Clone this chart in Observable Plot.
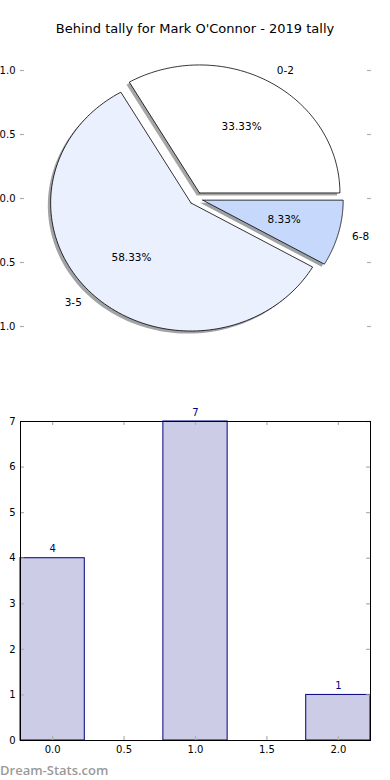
<!DOCTYPE html>
<html>
<head>
<meta charset="utf-8">
<script src="https://cdn.jsdelivr.net/npm/d3@7"></script>
<script src="https://cdn.jsdelivr.net/npm/@observablehq/plot@0.6"></script>
<style>
  html, body { margin: 0; padding: 0; background: #fff; }
  #wrap { position: relative; width: 390px; height: 780px; overflow: hidden; font-family: "DejaVu Sans", sans-serif; }
  #title { position: absolute; top: 21px; left: 0; width: 390px; text-align: center; font-size: 13px; color: #000; }
  #pie { position: absolute; top: 0; left: 0; }
  #bar { position: absolute; top: 390px; left: 0; }
  #mark { position: absolute; left: 0; top: 763px; font-family: "Open Sans", "DejaVu Sans", sans-serif; font-size: 13px; line-height: 14px; font-weight: 600; color: #9a9a9a; }
</style>
</head>
<body>
<div id="wrap">
  <div id="pie"></div>
  <div id="title"></div>
  <div id="bar"></div>
  <div id="mark"></div>
</div>
<script>
const title = "Behind tally for Mark O'Connor - 2019 tally";
const watermark = "Dream-Stats.com";
const categories = ["0-2", "3-5", "6-8"];
const tallies = [4, 7, 1];
const pieColors = ["#ffffff", "#eaf0fd", "#c6d9fd"];
const explode = [0.05, 0.05, 0.05];
const pieTicks = [-1, -0.5, 0, 0.5, 1];
const barIndex = [0, 1, 2];
const barXTicks = [0, 0.5, 1, 1.5, 2];
const barYTicks = [0, 1, 2, 3, 4, 5, 6, 7];

document.getElementById("title").textContent = title;
document.getElementById("mark").textContent = watermark;

const font = {fontFamily: "DejaVu Sans", fontSize: "10px", background: "transparent", overflow: "visible"};

// ---------- Pie ----------
const total = d3.sum(tallies);
const wedges = [];
const labels = [];
let a0 = 0;
tallies.forEach((v, i) => {
  const a1 = a0 + 360 * v / total;
  const mid = (a0 + a1) / 2 * Math.PI / 180;
  const cx = explode[i] * Math.cos(mid), cy = explode[i] * Math.sin(mid);
  const pts = [{x: cx, y: cy}];
  const n = 120;
  for (let k = 0; k <= n; k++) {
    const a = (a0 + (a1 - a0) * k / n) * Math.PI / 180;
    pts.push({x: cx + Math.cos(a), y: cy + Math.sin(a)});
  }
  pts.push({x: cx, y: cy});
  wedges.push({pts, color: pieColors[i]});
  labels.push({
    lx: cx + 1.1 * Math.cos(mid), ly: cy + 1.1 * Math.sin(mid), name: categories[i],
    px: cx + 0.6 * Math.cos(mid), py: cy + 0.6 * Math.sin(mid), pct: d3.format(".2f")(v / total * 100) + "%"
  });
  a0 = a1;
});

const pieW = 390, pieH = 380, pmT = 38, pmB = 22, pmL = 20, pmR = 19;
const pieMarks = [];
wedges.forEach(w => {
  const c = d3.rgb(w.color);
  const sc = d3.rgb(c.r * 0.3, c.g * 0.3, c.b * 0.3).formatHex();
  pieMarks.push(Plot.line(w.pts, {x: d => d.x - 0.02, y: d => d.y - 0.02, fill: sc, fillOpacity: 0.5, stroke: "none", curve: "linear"}));
});
wedges.forEach(w => {
  pieMarks.push(Plot.line(w.pts, {x: "x", y: "y", fill: w.color, stroke: "#000", strokeWidth: 0.8, curve: "linear"}));
});
pieMarks.push(Plot.text(labels.filter(d => d.lx >= 0), {x: "lx", y: "ly", text: "name", textAnchor: "start", lineAnchor: "middle", fontSize: 10.5, fill: "#000"}));
pieMarks.push(Plot.text(labels.filter(d => d.lx < 0), {x: "lx", y: "ly", text: "name", textAnchor: "end", lineAnchor: "middle", fontSize: 10.5, fill: "#000"}));
pieMarks.push(Plot.text(labels, {x: "px", y: "py", text: "pct", textAnchor: "middle", lineAnchor: "middle", fontSize: 10.5, fill: "#000"}));
const pFrameW = pieW - pmL - pmR;
pieMarks.push(Plot.tickY(pieTicks, {y: d => d, stroke: "#b0b0b0", strokeWidth: 1.2, insetRight: pFrameW - 4}));
pieMarks.push(Plot.tickY(pieTicks, {y: d => d, stroke: "#b0b0b0", strokeWidth: 1.2, insetLeft: pFrameW - 4}));
pieMarks.push(Plot.axisY(pieTicks, {tickSize: 0, tickPadding: 5, tickFormat: d3.format(".1f"), label: null, fontSize: 10, fill: "#000"}));

const pie = Plot.plot({
  width: pieW, height: pieH,
  marginTop: pmT, marginBottom: pmB, marginLeft: pmL, marginRight: pmR,
  style: font,
  x: {domain: [-1.25, 1.25], axis: null},
  y: {domain: [-1.25, 1.25], label: null},
  marks: pieMarks
});
document.getElementById("pie").appendChild(pie);

// ---------- Bar ----------
const barW = 390, barH = 380, bmT = 31, bmB = 30, bmL = 20, bmR = 20;
const bFrameH = barH - bmT - bmB;
const bFrameW = barW - bmL - bmR;
const barData = barIndex.map(i => ({i, v: tallies[i]}));
const bar = Plot.plot({
  width: barW, height: barH,
  marginTop: bmT, marginBottom: bmB, marginLeft: bmL, marginRight: bmR,
  style: font,
  x: {domain: [-0.225, 2.225], label: null},
  y: {domain: [0, 7], label: null},
  marks: [
    Plot.rectY(barData, {x1: d => d.i - 0.225, x2: d => d.i + 0.225, y1: 0, y2: "v", fill: "#cccce6", stroke: "#000080", strokeWidth: 1}),
    Plot.tickX(barXTicks, {x: d => d, stroke: "#b0b0b0", strokeWidth: 1.2, insetBottom: bFrameH - 4}),
    Plot.tickX(barXTicks, {x: d => d, stroke: "#b0b0b0", strokeWidth: 1.2, insetTop: bFrameH - 4}),
    Plot.tickY(barYTicks, {y: d => d, stroke: "#b0b0b0", strokeWidth: 1.2, insetRight: bFrameW - 4}),
    Plot.tickY(barYTicks, {y: d => d, stroke: "#b0b0b0", strokeWidth: 1.2, insetLeft: bFrameW - 4}),
    Plot.frame({stroke: "#000", strokeWidth: 1}),
    Plot.text(barData, {x: "i", y: "v", text: d => String(d.v), dy: -9, textAnchor: "middle", lineAnchor: "middle", fill: "#000080", fontSize: 10}),
    Plot.axisY(barYTicks, {tickSize: 0, tickPadding: 5, tickFormat: d3.format("d"), label: null, fontSize: 10, fill: "#000"}),
    Plot.axisX(barXTicks, {tickSize: 0, tickPadding: 5, tickFormat: d3.format(".1f"), label: null, fontSize: 10, fill: "#000"})
  ]
});
document.getElementById("bar").appendChild(bar);
</script>
</body>
</html>
